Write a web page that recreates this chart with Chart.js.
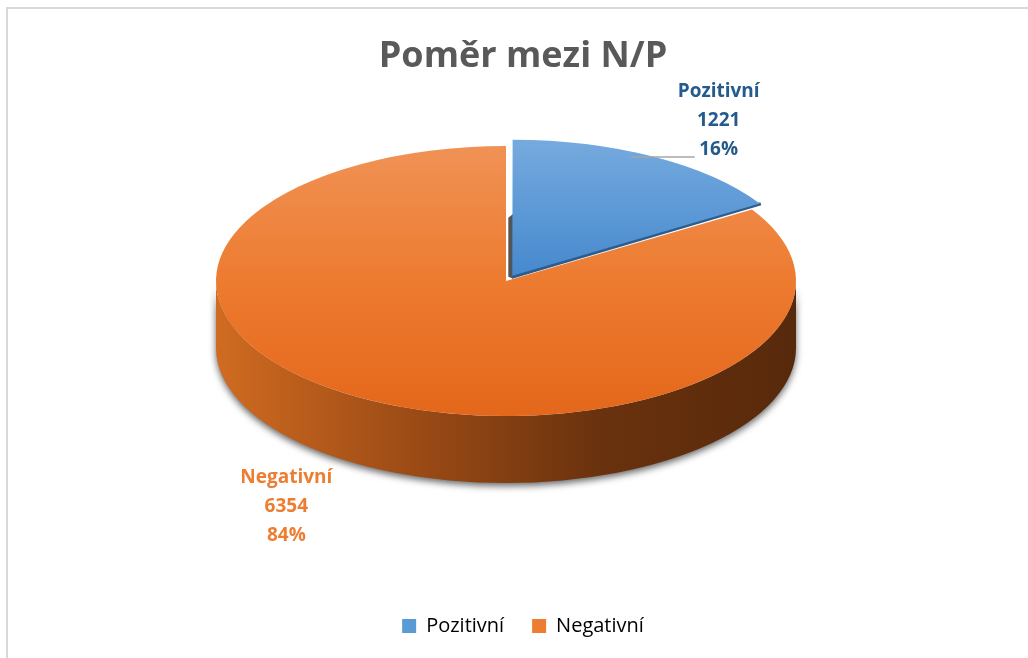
<!DOCTYPE html>
<html>
<head>
<meta charset="utf-8">
<script src="https://cdn.jsdelivr.net/npm/chart.js@4.4.1/dist/chart.umd.min.js"></script>
<style>
html,body{margin:0;padding:0;background:#fff;overflow:hidden;width:1028px;height:658px}
#frame{position:absolute;left:6px;top:7px;width:1100px;height:720px;border:2px solid #d9d9d9;box-sizing:border-box}
#wrap{position:absolute;left:0;top:0;width:1028px;height:658px}
</style>
</head>
<body>
<div id="frame"></div>
<div id="wrap"><canvas id="c" width="1028" height="658"></canvas></div>
<script>
// ---- data ----
const categories = ['Pozitivní', 'Negativní'];
const values = [1221, 6354];
const chartTitle = 'Poměr mezi N/P';
const sliceColors = ['#5b9bd5', '#ed7d31'];
const labelColors = ['#245a8c', '#ed7d31'];

// ---- layout constants (screen geometry of the 3D pie) ----
const PIE = { cx: 506, cy: 281, rx: 290, ry: 135, depth: 67 };
const SCALE_Y = PIE.ry / PIE.rx;
const EXPLODE = [52, 0];          // Chart.js arc offset (drawn as offset/4 px)
const labelOffsets = [[72, -71], [-79, 12]];
const leaderLines = [[-88, 65, -24, 65], null];
const FONT = '"Open Sans", "DejaVu Sans", sans-serif';

function pieCenter(chart) {
  const a = chart.chartArea;
  return { x: (a.left + a.right) / 2, y: (a.top + a.bottom) / 2 };
}

function sliceFill(ctx) {
  const chart = ctx.chart;
  if (!chart.chartArea) return sliceColors[ctx.dataIndex];
  const c = pieCenter(chart);
  const R = PIE.rx;
  const g = chart.ctx.createLinearGradient(0, c.y - R, 0, c.y + R);
  if (ctx.dataIndex === 0) {
    g.addColorStop(0, '#75aade');
    g.addColorStop(0.5, '#4689ce');
    g.addColorStop(1, '#3c7cc2');
  } else {
    g.addColorStop(0, '#f09255');
    g.addColorStop(0.5, '#ed7b30');
    g.addColorStop(1, '#e4671b');
  }
  return g;
}

function sliceAngles() {
  const total = values.reduce((a, b) => a + b, 0);
  let start = 0;
  return values.map(v => {
    const frac = v / total;
    const a = { start: start * Math.PI * 2, end: (start + frac) * Math.PI * 2, frac };
    a.mid = (a.start + a.end) / 2;
    start += frac;
    return a;
  });
}

const pie3d = {
  id: 'pie3d',
  beforeDatasetsDraw(chart) {
    const ctx = chart.ctx;
    const { cx, cy, rx, ry, depth } = PIE;
    // visible side wall of the pie
    ctx.save();
    ctx.beginPath();
    ctx.moveTo(cx - rx, cy);
    ctx.lineTo(cx - rx, cy + depth);
    ctx.ellipse(cx, cy + depth, rx, ry, 0, Math.PI, 0, true);
    ctx.lineTo(cx + rx, cy);
    ctx.ellipse(cx, cy, rx, ry, 0, 0, Math.PI, false);
    ctx.closePath();
    const g = ctx.createLinearGradient(cx - rx, 0, cx + rx, 0);
    g.addColorStop(0, '#d06b21');
    g.addColorStop(0.35, '#9a4a15');
    g.addColorStop(0.66, '#6a320e');
    g.addColorStop(1, '#57290b');
    ctx.shadowColor = 'rgba(0,0,0,0.6)';
    ctx.shadowBlur = 7;
    ctx.shadowOffsetY = 3;
    ctx.fillStyle = g;
    ctx.fill();
    ctx.restore();

    // inner faces of the exploded slice(s), seen through the gap
    ctx.save();
    sliceAngles().forEach((a, i) => {
      const d = (EXPLODE[i] || 0) / 4;
      if (!d) return;
      const dx = d * Math.sin(a.mid), dy = -d * Math.cos(a.mid) * SCALE_Y;
      const vx = cx + dx, vy = cy + dy;
      // left radial face (dark grey sliver)
      ctx.fillStyle = '#555555';
      ctx.beginPath();
      ctx.moveTo(vx + 1, vy + 3);
      ctx.lineTo(vx - 4, vy + 1);
      ctx.lineTo(vx - 4, vy - 58);
      ctx.lineTo(vx + 1, vy - 62);
      ctx.closePath();
      ctx.fill();
      // lower radial edge thickness
      const ex = cx + rx * Math.sin(a.end) + dx;
      const ey = cy - ry * Math.cos(a.end) + dy;
      ctx.fillStyle = '#2d5d8c';
      ctx.beginPath();
      ctx.moveTo(vx, vy - 1);
      ctx.lineTo(ex + 2, ey - 2);
      ctx.lineTo(ex + 3, ey + 1);
      ctx.lineTo(vx, vy + 3);
      ctx.closePath();
      ctx.fill();
    });
    ctx.restore();

    // squash the library's circular pie into the top-face ellipse
    const c = pieCenter(chart);
    ctx.save();
    ctx.translate(cx - c.x, cy);
    ctx.scale(1, SCALE_Y);
    ctx.translate(0, -c.y);
  },
  afterDatasetsDraw(chart) {
    chart.ctx.restore();
  },
  afterDraw(chart) {
    const ctx = chart.ctx;
    const { cx, cy, rx, ry, depth } = PIE;
    ctx.save();
    sliceAngles().forEach((a, i) => {
      const v = values[i];
      const ax = cx + rx * Math.sin(a.mid);
      const ay = cy - ry * Math.cos(a.mid) + (Math.cos(a.mid) < 0 ? depth : 0);
      const lx = ax + labelOffsets[i][0];
      const ly = ay + labelOffsets[i][1];
      const L = leaderLines[i];
      if (L) {
        ctx.strokeStyle = '#a6a6a6';
        ctx.lineWidth = 1.5;
        ctx.beginPath();
        ctx.moveTo(lx + L[0], ly + L[1]);
        ctx.lineTo(lx + L[2], ly + L[3]);
        ctx.stroke();
      }
      ctx.font = 'bold 19px ' + FONT;
      ctx.fillStyle = labelColors[i];
      ctx.textAlign = 'center';
      ctx.textBaseline = 'middle';
      const lines = [categories[i], String(v), Math.round(a.frac * 100) + '%'];
      lines.forEach((t, k) => ctx.fillText(t, lx, ly + k * 29));
    });
    ctx.restore();
  }
};

new Chart(document.getElementById('c'), {
  type: 'pie',
  data: {
    labels: categories,
    datasets: [{
      data: values,
      backgroundColor: sliceFill,
      borderWidth: 0,
      offset: EXPLODE,
      radius: PIE.rx,
      clip: false
    }]
  },
  options: {
    responsive: false,
    animation: false,
    events: [],
    layout: { padding: { left: 18, right: 0, top: 0, bottom: 12 } },
    plugins: {
      title: {
        display: true,
        text: chartTitle,
        color: '#595959',
        font: { family: FONT, size: 36, weight: 'bold' },
        padding: { top: 35, bottom: 0 }
      },
      legend: {
        position: 'bottom',
        labels: {
          color: '#595959',
          font: { family: FONT, size: 20 },
          boxWidth: 14,
          boxHeight: 14,
          padding: 28,
          generateLabels(chart) {
            return categories.map((t, i) => ({
              text: t,
              fillStyle: sliceColors[i],
              strokeStyle: sliceColors[i],
              lineWidth: 0,
              hidden: false,
              index: i
            }));
          }
        }
      },
      tooltip: { enabled: false }
    }
  },
  plugins: [pie3d]
});
</script>
</body>
</html>
